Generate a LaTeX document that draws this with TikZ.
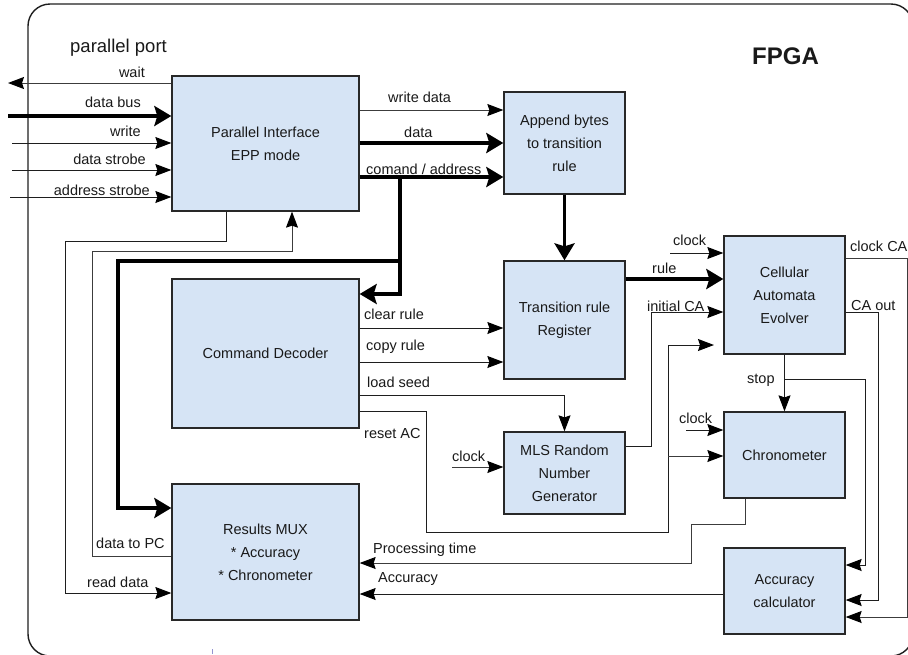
\documentclass[tikz,border=0pt]{standalone}
\usepackage{fontspec}
\setmainfont{Liberation Sans}
\usetikzlibrary{arrows.meta}
\definecolor{boxfill}{RGB}{214,228,245}
\definecolor{boxdraw}{RGB}{40,40,40}
\definecolor{linec}{RGB}{30,30,30}
\definecolor{lineg}{RGB}{60,60,60}
\definecolor{txt}{RGB}{25,25,25}
\tikzset{
  blk/.style={draw=boxdraw, line width=1.3pt, fill=boxfill, inner sep=0pt, align=center,
    font=\fontsize{14.5}{23}\selectfont, text=txt},
  lbl/.style={inner sep=0pt, font=\fontsize{14.5}{17}\selectfont, text=txt},
  ln/.style={draw=linec, line width=1pt},
  lng/.style={draw=lineg, line width=1pt},
  arr/.style={ln, -{Stealth[length=16pt,width=12pt,inset=2pt,color=black]}},
  arrg/.style={lng, -{Stealth[length=16pt,width=12pt,inset=2pt,color=black]}},
  thk/.style={draw=black, line width=3.5pt},
  tarr/.style={thk, -{Stealth[length=17pt,width=20pt,inset=3pt]}}
}
\begin{document}
\begin{tikzpicture}[x=1pt,y=-1pt]
\useasboundingbox (0,0) rectangle (908,654);
\begin{scope}
\clip (0,0) rectangle (908,654);
\draw[draw=linec, line width=1.4pt, rounded corners=22pt] (28,4) rectangle (913,656);
\end{scope}
\draw[draw=gray!60!blue!60, line width=0.7pt] (212,649) -- (212,654);

% titles
\node[inner sep=0pt, anchor=base west, font=\fontsize{18.5}{20}\selectfont, text=txt] (tport) at (70,52) {parallel port};
\node[inner sep=0pt, anchor=base west, font=\fontsize{24}{26}\selectfont\bfseries, text=txt] (tfpga) at (752,64) {FPGA};

% blocks
\node[blk, minimum width=187pt, minimum height=135pt] (pi)  at (265.5,143.5) {Parallel Interface\\EPP mode};
\node[blk, minimum width=121pt, minimum height=102pt] (app) at (564.5,143) {Append bytes\\to transition\\rule};
\node[blk, minimum width=121pt, minimum height=118pt] (tr)  at (564.5,320) {Transition rule\\Register};
\node[blk, minimum width=121pt, minimum height=118pt] (ca)  at (784.5,295) {Cellular\\Automata\\Evolver};
\node[blk, minimum width=187pt, minimum height=149pt] (cd)  at (265.5,353.5) {Command Decoder};
\node[blk, minimum width=121pt, minimum height=82pt]  (mls) at (564.5,473) {MLS Random\\Number\\Generator};
\node[blk, minimum width=121pt, minimum height=86pt]  (chr) at (784.5,455) {Chronometer};
\node[blk, minimum width=187pt, minimum height=136pt] (mux) at (265.5,552) {Results MUX\\* Accuracy\\* Chronometer};
\node[blk, minimum width=121pt, minimum height=86pt]  (acc) at (784.5,591) {Accuracy\\calculator};

% free ends
\coordinate (wait0) at (8,83);
\coordinate (dbus0) at (8,116);
\coordinate (wr0) at (12,143);
\coordinate (ds0) at (12,170);
\coordinate (as0) at (10,197);
\coordinate (mclk0) at (452,467);
\coordinate (cclk0) at (670,253);
\coordinate (hclk0) at (686,430);
\coordinate (loose) at (714,345);
\coordinate (cmdj) at (400,177);
\coordinate (cmdk) at (400,261);
\coordinate (rstj) at (668,456);
\coordinate (stopj) at (785,379);

% parallel port side
\draw[arrg] (pi.west |- wait0) -- (wait0);
\draw[tarr] (dbus0) -- (pi.west |- dbus0);
\draw[arr] (wr0) -- (pi.west |- wr0);
\draw[arr] (ds0) -- (pi.west |- ds0);
\draw[arr] (as0) -- (pi.west |- as0);
\node[lbl, anchor=base east] (lwait) at (145,77) {wait};
\node[lbl, anchor=base east] (ldbus) at (141,107) {data bus};
\node[lbl, anchor=base east] (lwr) at (141,136) {write};
\node[lbl, anchor=base east] (lds) at (146,164) {data strobe};
\node[lbl, anchor=base east] (las) at (150,195) {address strobe};

% PI -> Append
\draw[arrg] (pi.east |- 0,110) -- (app.west |- 0,110);
\draw[tarr] (pi.east |- 0,143) -- (app.west |- 0,143);
\draw[tarr] (pi.east |- 0,177) -- (app.west |- 0,177);
\node[lbl, anchor=base west] (lwd) at (388,102) {write data};
\node[lbl, anchor=base west] (ldata) at (404,137) {data};
\node[lbl, anchor=base west] (lcmd) at (366,174) {comand / address};

% command/address branches
\draw[tarr] (cmdj) |- (cd.east |- 0,294);
\draw[tarr] (cmdk) -- (118,261) -- (118,508) -- (mux.west |- 0,508);

% PI <-> MUX
\draw[arr] (pi.south -| 226,0) -- (226,241) -- (65,241) -- (65,593) -- (mux.west |- 0,593);
\draw[arrg] (mux.west |- 0,556) -- (92,556) -- (92,251) -- (292,251) -- (pi.south -| 292,0);
\node[lbl, anchor=base west] (ldpc) at (96,548) {data to PC};
\node[lbl, anchor=base west] (lrd) at (87,587) {read data};

% Append -> TR
\draw[tarr] (app.south) -- (tr.north);

% Command decoder outputs
\draw[arr] (cd.east |- 0,328) -- (tr.west |- 0,328);
\draw[arr] (cd.east |- 0,362) -- (tr.west |- 0,362);
\draw[arr] (cd.east |- 0,395) -| (mls.north);
\draw[ln] (cd.east |- 0,411) -- (426,411) -- (426,532) -- (668,532) -- (668,345);
\draw[arr] (668,345) -- (loose);
\draw[arrg] (rstj) -- (chr.west |- rstj);
\node[lbl, anchor=base west] (lclr) at (364,319) {clear rule};
\node[lbl, anchor=base west] (lcpy) at (366,350) {copy rule};
\node[lbl, anchor=base west] (lld) at (367,387) {load seed};
\node[lbl, anchor=base west] (lrst) at (364,438) {reset AC};

% MLS
\draw[arrg] (mclk0) -- (mls.west |- mclk0);
\node[lbl, anchor=base west] (lmclk) at (452,461) {clock};
\draw[arr] (mls.east |- 0,446) -- (651,446) -- (651,312) -- (ca.west |- 0,312);
\node[lbl, anchor=base west] (linit) at (647,311) {initial CA};

% TR -> CA
\draw[tarr] (tr.east |- 0,279) -- (ca.west |- 0,279);
\node[lbl, anchor=base west] (lrule) at (652,273) {rule};
\draw[arr] (cclk0) -- (ca.west |- cclk0);
\node[lbl, anchor=base west] (lcclk) at (673,245) {clock};

% CA outputs
\draw[arrg] (ca.east |- 0,258) -- (907,258) -- (907,617) -- (acc.east |- 0,617);
\node[lbl, anchor=base west] (lcca) at (850,251) {clock CA};
\draw[arr] (ca.east |- 0,312) -- (878,312) -- (878,600) -- (acc.east |- 0,600);
\node[lbl, anchor=base west] (lcao) at (851,310) {CA out};
\draw[arr] (ca.south) -- (chr.north);
\draw[arr] (stopj) -- (865,379) -- (865,565) -- (acc.east |- 0,565);
\node[lbl, anchor=base west] (lstop) at (747,383) {stop};

% Chronometer
\draw[arr] (hclk0) -- (chr.west |- hclk0);
\node[lbl, anchor=base west] (lhclk) at (679,423) {clock};
\draw[arrg] (chr.south -| 745,0) -- (745,524) -- (691,524) -- (691,563) -- (mux.east |- 0,563);
\node[lbl, anchor=base west] (lpt) at (373,553) {Processing time};

% Accuracy
\draw[arr] (acc.west |- 0,594) -- (mux.east |- 0,594);
\node[lbl, anchor=base west] (lacc) at (378,582) {Accuracy};
\end{tikzpicture}
\end{document}
